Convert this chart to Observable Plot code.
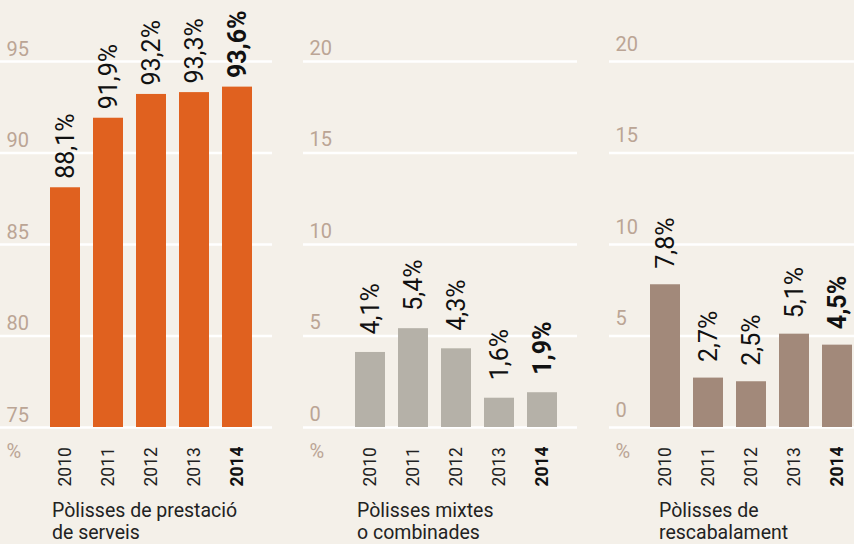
<!DOCTYPE html>
<html><head><meta charset="utf-8">
<script src="https://cdn.jsdelivr.net/npm/d3@7"></script>
<script src="https://cdn.jsdelivr.net/npm/@observablehq/plot@0.6"></script>
<style>
html,body{margin:0;padding:0;background:#f4f0e9;}
#root{position:relative;width:854px;height:544px;overflow:hidden;background:#f4f0e9;font-family:Roboto, sans-serif;}
.panel{position:absolute;top:0;}
.panel svg{overflow:visible;}
.caption{position:absolute;font-size:19.5px;line-height:22px;color:#222;white-space:pre-line;}
</style></head><body><div id="root"></div>
<script>
// ---- data ----
const years = ["2010", "2011", "2012", "2013", "2014"];
const highlightYear = "2014";
const prestacio = [88.1, 91.9, 93.2, 93.3, 93.6];
const mixtes = [4.1, 5.4, 4.3, 1.6, 1.9];
const rescabalament = [7.8, 2.7, 2.5, 5.1, 4.5];
const ticksPrestacio = [75, 80, 85, 90, 95];
const ticksPercent = [0, 5, 10, 15, 20];
const captions = ["Pòlisses de prestació\nde serveis", "Pòlisses mixtes\no combinades", "Pòlisses de\nrescabalament"];
const unitLabel = "%";

const fmt = v => v.toFixed(1).replace(".", ",") + "%";
const root = document.getElementById("root");

function panel({values, ticks, color, left, width, xRange, tickDy, labelDy, caption, captionLeft}) {
  const data = years.map((y, i) => ({year: y, value: values[i], label: fmt(values[i])}));
  const yMin = ticks[0], yMax = ticks[ticks.length - 1];
  const tickColor = "#bba595";
  const plot = Plot.plot({
    width, height: 544,
    marginTop: 61, marginBottom: 117, marginLeft: 0, marginRight: 0,
    style: {background: "transparent", fontFamily: "Roboto, sans-serif", overflow: "visible"},
    x: {domain: years, range: xRange, paddingInner: 0.31, paddingOuter: 0, axis: null},
    y: {domain: [yMin, yMax], axis: null},
    marks: [
      Plot.ruleY(ticks, {stroke: "#ffffff", strokeWidth: 2.5}),
      Plot.text(ticks, {y: d => d, text: d => String(d), frameAnchor: "left", textAnchor: "start",
        lineAnchor: "bottom", dx: 6, dy: tickDy, fontSize: 20, fontWeight: 400, fill: tickColor}),
      Plot.text([unitLabel], {text: d => d, frameAnchor: "bottom-left", textAnchor: "start",
        lineAnchor: "middle", dx: 6, dy: 24, fontSize: 20, fontWeight: 400, fill: tickColor}),
      Plot.barY(data, {x: "year", y1: yMin, y2: "value", fill: color}),
      Plot.text(data.filter(d => d.year !== highlightYear), {x: "year", y: "value", text: "label",
        rotate: -90, textAnchor: "start", lineAnchor: "middle", dy: labelDy, fontSize: 25, fill: "#111"}),
      Plot.text(data.filter(d => d.year === highlightYear), {x: "year", y: "value", text: "label",
        rotate: -90, textAnchor: "start", lineAnchor: "middle", dy: labelDy, fontSize: 25, fontWeight: 700, fill: "#111"}),
      Plot.text(years.filter(y => y !== highlightYear), {x: d => d, text: d => d, frameAnchor: "bottom",
        rotate: -90, textAnchor: "start", lineAnchor: "middle", dy: 59, fontSize: 17.5, fill: "#222"}),
      Plot.text([highlightYear], {x: d => d, text: d => d, frameAnchor: "bottom",
        rotate: -90, textAnchor: "start", lineAnchor: "middle", dy: 59, fontSize: 17.5, fontWeight: 700, fill: "#111"})
    ]
  });
  const div = document.createElement("div");
  div.className = "panel";
  div.style.left = left + "px";
  div.appendChild(plot);
  root.appendChild(div);
  const cap = document.createElement("div");
  cap.className = "caption";
  cap.style.left = captionLeft + "px";
  cap.style.top = "500px";
  cap.textContent = caption;
  root.appendChild(cap);
}

panel({values: prestacio, ticks: ticksPrestacio, color: "#e0611f", left: 0, width: 272,
  xRange: [49, 253], tickDy: -6, labelDy: -9, caption: captions[0], captionLeft: 52});
panel({values: mixtes, ticks: ticksPercent, color: "#b5b1a8", left: 303, width: 274,
  xRange: [50, 256], tickDy: -7, labelDy: -18, caption: captions[1], captionLeft: 357});
panel({values: rescabalament, ticks: ticksPercent, color: "#a2897a", left: 609, width: 245,
  xRange: [39, 244], tickDy: -11, labelDy: -16, caption: captions[2], captionLeft: 659});
</script>
</body></html>
